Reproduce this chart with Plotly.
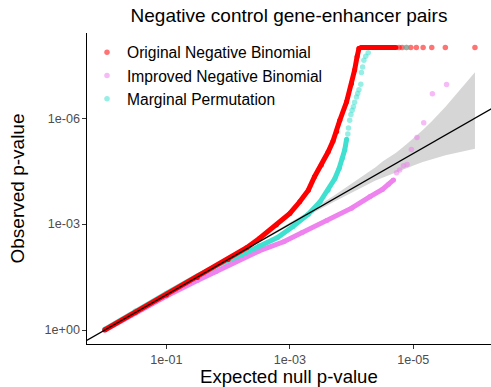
import plotly.graph_objects as go

# ---- data: values are -log10(p) ----
# Original Negative Binomial (red)
red_dense_x = [0.0, 0.5, 1.0, 1.5, 2.0, 2.3, 2.51, 2.78, 3.0, 3.16, 3.30, 3.40, 3.51, 3.62, 3.70, 3.76, 3.81, 3.92, 4.0, 4.05, 4.09, 4.12, 4.16, 4.72]
red_dense_y = [0.0, 0.5, 0.99, 1.49, 2.0, 2.33, 2.60, 2.97, 3.30, 3.63, 3.96, 4.34, 4.67, 5.04, 5.35, 5.62, 5.94, 6.46, 6.98, 7.36, 7.74, 7.97, 8.0, 8.0]
red_pts_x = [4.77, 4.82, 4.89, 4.96, 5.05, 5.16, 5.30, 5.52, 6.0]
red_pts_y = [8.0, 8.0, 8.0, 8.0, 8.0, 8.0, 8.0, 8.0, 8.0]

# Improved Negative Binomial (violet)
pink_dense_x = [0.0, 0.5, 1.0, 1.5, 1.8, 2.2, 2.5, 2.9, 3.2, 3.6, 4.0, 4.3, 4.5, 4.6, 4.68]
pink_dense_y = [0.0, 0.49, 0.96, 1.40, 1.65, 2.02, 2.24, 2.50, 2.76, 3.10, 3.45, 3.78, 3.98, 4.13, 4.25]
pink_pts_x = [4.73, 4.78, 4.84, 4.90, 4.97, 5.06, 5.17, 5.31, 5.54]
pink_pts_y = [4.45, 4.53, 4.65, 4.69, 5.11, 5.45, 5.87, 6.69, 6.95]

# Marginal Permutation (turquoise)
cyan_dense_x = [0.0, 0.5, 1.0, 1.5, 1.9, 2.2, 2.5, 2.8, 3.05, 3.3, 3.49, 3.62, 3.73, 3.80, 3.85, 3.89, 3.92]
cyan_dense_y = [0.02, 0.54, 1.04, 1.53, 1.90, 2.12, 2.38, 2.62, 2.93, 3.28, 3.63, 3.96, 4.29, 4.58, 4.86, 5.10, 5.40]
cyan_pts_x = [3.94, 3.95, 3.97, 3.99, 4.01, 4.03, 4.05, 4.08, 4.10, 4.12, 4.15, 4.16, 4.18, 4.20, 4.23, 4.27, 4.89]
cyan_pts_y = [5.55, 5.72, 5.94, 6.10, 6.22, 6.32, 6.45, 6.60, 6.70, 6.80, 6.96, 7.29, 7.45, 7.64, 7.75, 7.85, 8.0]

# 95% band around the null (grey ribbon)
band_x = [2.0, 2.699, 3.222, 3.701, 3.994, 4.215, 4.389, 4.509, 4.721, 4.886, 5.046, 5.155, 5.301, 5.523, 6.0]
band_upper = [2.012, 2.727, 3.27, 3.79, 4.13, 4.39, 4.61, 4.78, 5.02, 5.25, 5.49, 5.66, 5.91, 6.32, 7.30]
band_lower = [1.988, 2.672, 3.17, 3.62, 3.89, 4.08, 4.23, 4.33, 4.47, 4.58, 4.69, 4.76, 4.84, 4.95, 5.13]

# y = x reference line
ref_line = [-0.5, 6.5]

x_tick_vals = [1e-1, 1e-3, 1e-5]
x_tick_text = ["1e-01", "1e-03", "1e-05"]
y_tick_vals = [1.0, 1e-3, 1e-6]
y_tick_text = ["1e+00", "1e-03", "1e-06"]


def pv(vals):
    return [10 ** (-v) for v in vals]


RED = "#FF0000"
VIOLET = "#EE82EE"
TURQ = "#40E0D0"
FONT = "Liberation Sans, Arial, Helvetica, sans-serif"

fig = go.Figure()

fig.add_trace(go.Scatter(
    x=pv(band_x + band_x[::-1]), y=pv(band_upper + band_lower[::-1]),
    fill="toself", fillcolor="#D6D6D6", line=dict(width=0), mode="lines",
    hoverinfo="skip", showlegend=False))

for dx, dy, col in [(pink_dense_x, pink_dense_y, VIOLET),
                    (cyan_dense_x, cyan_dense_y, TURQ),
                    (red_dense_x, red_dense_y, RED)]:
    fig.add_trace(go.Scatter(
        x=pv(dx), y=pv(dy), mode="lines+markers",
        line=dict(color=col, width=5), marker=dict(color=col, size=5),
        showlegend=False, hoverinfo="skip"))

fig.add_trace(go.Scatter(x=pv(pink_pts_x), y=pv(pink_pts_y), mode="markers",
                         name="Improved Negative Binomial", legendrank=2,
                         marker=dict(color=VIOLET, size=5.5, opacity=0.55)))
fig.add_trace(go.Scatter(x=pv(red_pts_x), y=pv(red_pts_y), mode="markers",
                         name="Original Negative Binomial", legendrank=1,
                         marker=dict(color=RED, size=5.5, opacity=0.55)))
fig.add_trace(go.Scatter(x=pv(cyan_pts_x), y=pv(cyan_pts_y), mode="markers",
                         name="Marginal Permutation", legendrank=3,
                         marker=dict(color=TURQ, size=5.5, opacity=0.55)))

fig.add_trace(go.Scatter(x=pv(ref_line), y=pv(ref_line), mode="lines",
                         line=dict(color="black", width=1.3),
                         showlegend=False, hoverinfo="skip"))

axis_common = dict(
    type="log", showgrid=False, zeroline=False, showline=True,
    linecolor="black", linewidth=1.1, ticks="outside", ticklen=3.5,
    tickcolor="#333333", tickwidth=1.1,
    tickfont=dict(family=FONT, size=12.6, color="#4D4D4D"),
)

fig.update_layout(
    width=491, height=387,
    margin=dict(l=87, r=0, t=33, b=43),
    paper_bgcolor="white", plot_bgcolor="white",
    title=dict(text="Negative control gene-enhancer pairs",
               font=dict(family=FONT, size=19, color="black"),
               x=0.5, xref="paper", xanchor="center",
               y=1 - 15.5 / 387, yref="container", yanchor="middle"),
    xaxis=dict(axis_common, range=[0.287, -6.26], autorange=False,
               tickvals=x_tick_vals, ticktext=x_tick_text),
    yaxis=dict(axis_common, range=[0.396, -8.41], autorange=False,
               tickvals=y_tick_vals, ticktext=y_tick_text,
               title=dict(text="Observed p-value", standoff=14,
                          font=dict(family=FONT, size=19, color="black"))),
    legend=dict(x=0.0, y=0.992, xanchor="left", yanchor="top",
                bgcolor="rgba(0,0,0,0)",
                font=dict(family=FONT, size=15.6, color="black")),
    showlegend=True,
    annotations=[dict(text="Expected null p-value", xref="paper", yref="paper",
                      x=0.5, y=-(376.5 - 344) / 311, xanchor="center",
                      yanchor="middle", showarrow=False, borderpad=0,
                      font=dict(family=FONT, size=18.6, color="black"))],
)

fig.write_html("out.html")
